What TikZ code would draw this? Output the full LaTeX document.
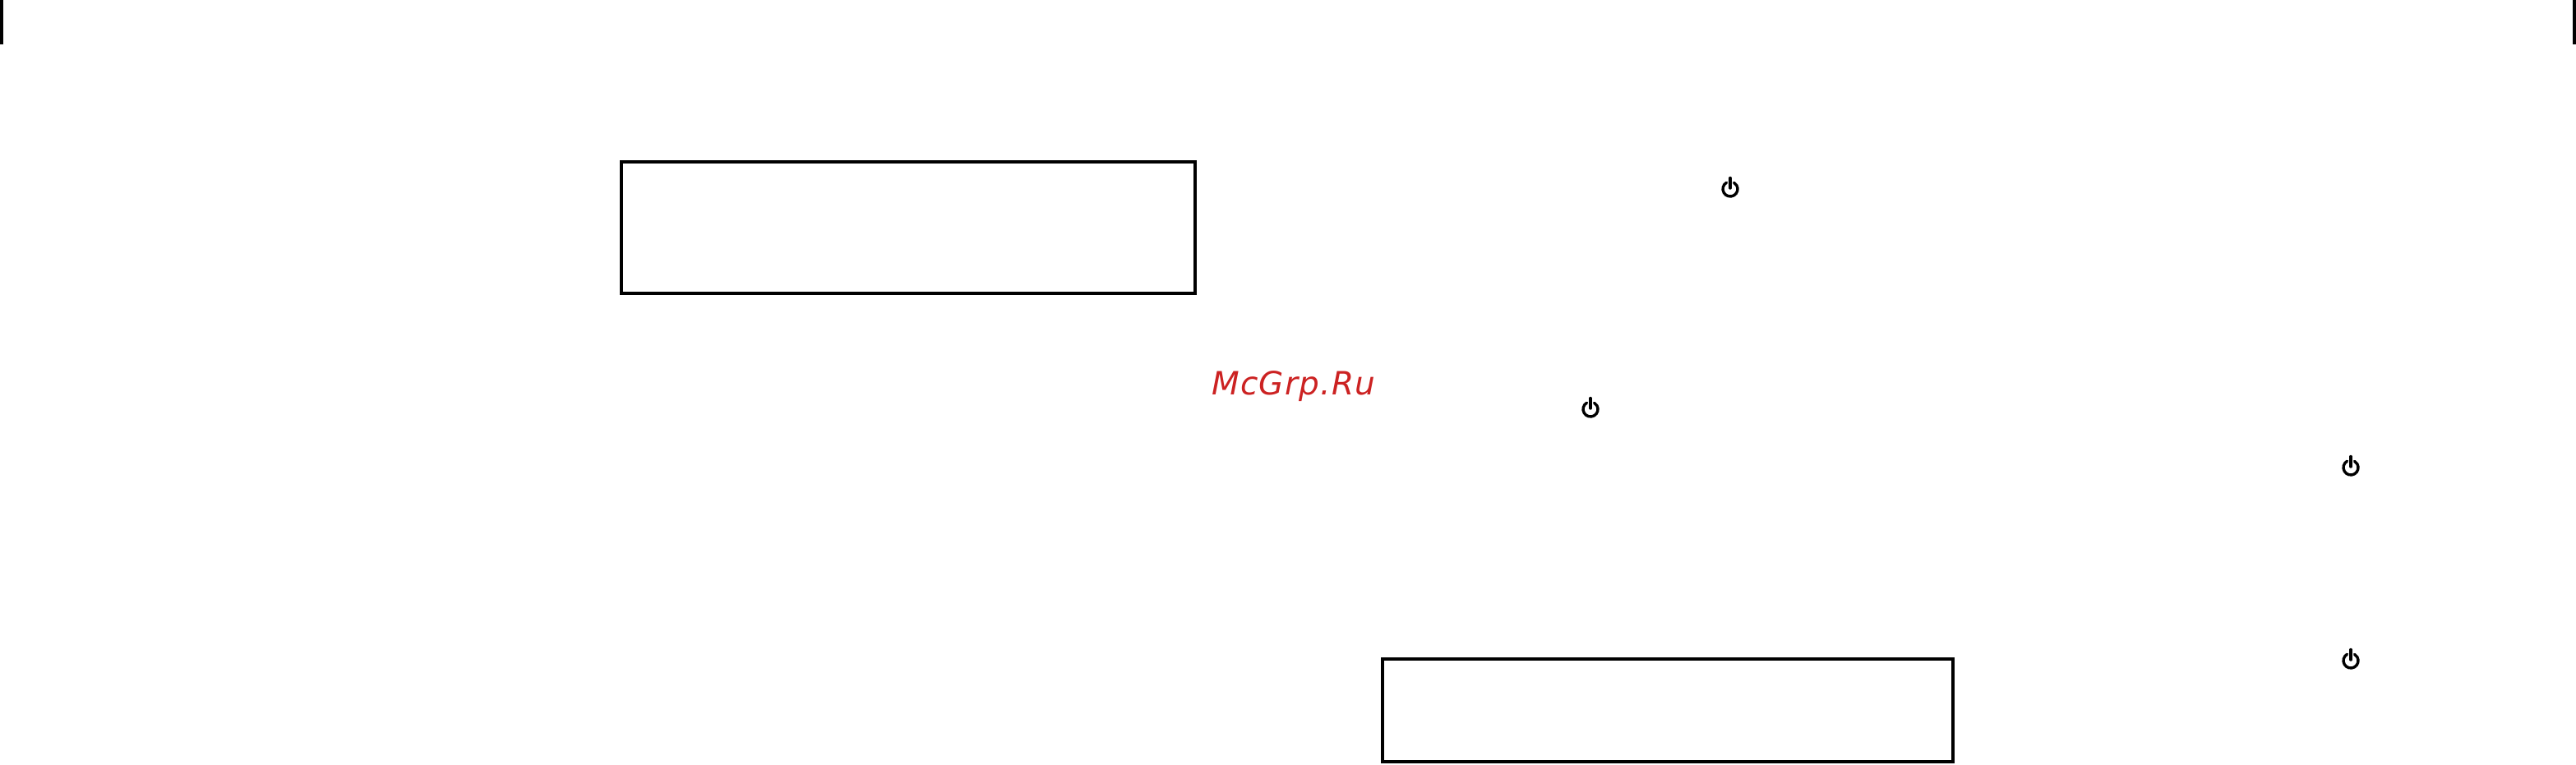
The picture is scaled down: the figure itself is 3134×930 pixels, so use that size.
\documentclass[tikz,border=0pt]{standalone}
\usepackage{fontspec}
\setmainfont{DejaVu Sans}
\definecolor{wm}{HTML}{CC2222}
\tikzset{
  frame/.style={draw=black,line width=4.4pt,fill=white,inner sep=0pt},
  tick/.style={draw=black,line width=4.4pt},
  ring/.style={draw=black,line width=3.4pt,line cap=round},
  stem/.style={draw=black,line width=3.4pt,line cap=round},
  pics/poweric/.style={code={
    \path[ring] (-4.5,-6.8) arc[start angle=120,end angle=420,radius=9pt];
    \path[stem] (0,-12.5) -- (0,0);
  }}
}
\begin{document}
\begin{tikzpicture}[x=1pt,y=-1pt]
\useasboundingbox (0,0) rectangle (3134,930);
\fill[white] (0,0) rectangle (3134,930);
\coordinate (tl1) at (2,0); \coordinate (tl2) at (2,54);
\coordinate (tr1) at (3132,0); \coordinate (tr2) at (3132,54);
\draw[tick] (tl1) -- (tl2);
\draw[tick] (tr1) -- (tr2);
\node[frame,minimum width=698pt,minimum height=160pt,anchor=center] (boxa) at (1105,277) {};
\node[frame,minimum width=694pt,minimum height=125pt,anchor=center] (boxb) at (2029,864.5) {};
\node[anchor=base west,inner sep=0pt,text=wm,font=\fontsize{39}{39}\selectfont\itshape\addfontfeature{LetterSpace=3.3}] (wmark) at (1474,480) {McGrp.Ru};
\pic at (2105,229) {poweric};
\pic at (1935,497) {poweric};
\pic at (2860,568) {poweric};
\pic at (2860,803) {poweric};
\end{tikzpicture}
\end{document}
